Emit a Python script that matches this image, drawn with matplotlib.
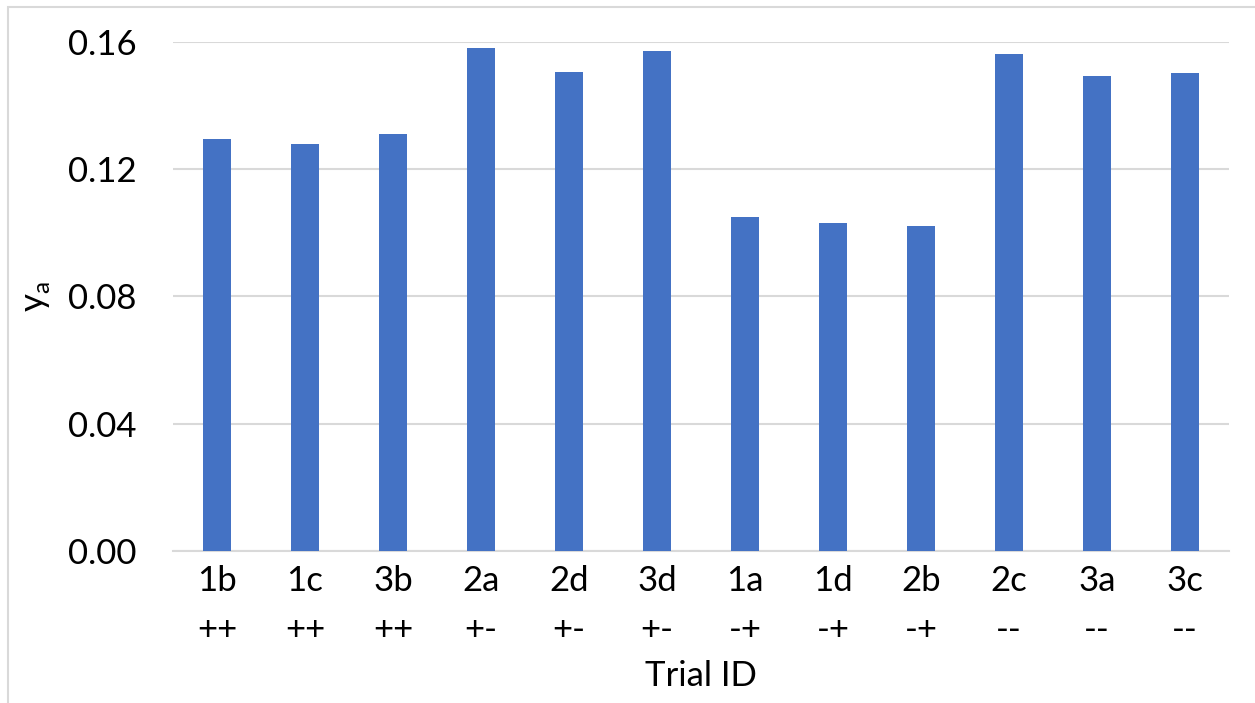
import matplotlib.pyplot as plt
from matplotlib.patches import Rectangle
import numpy as np

plt.rcParams["font.family"] = ["Lato", "DejaVu Sans"]

trial_ids = ["1b", "1c", "3b", "2a", "2d", "3d", "1a", "1d", "2b", "2c", "3a", "3c"]
signs = ["++", "++", "++", "+-", "+-", "+-", "-+", "-+", "-+", "--", "--", "--"]
y_a = [0.1295, 0.1280, 0.1312, 0.1580, 0.1505, 0.1573,
       0.1049, 0.1030, 0.1023, 0.1562, 0.1494, 0.1503]
y_ticks = [0.00, 0.04, 0.08, 0.12, 0.16]

BAR_COLOR = "#4472C4"
GRID_COLOR = "#d9d9d9"
FONT_SIZE = 25

fig = plt.figure(figsize=(12.55, 7.03), dpi=100)
ax = fig.add_axes([0.1378, 0.2162, 0.8415, 0.7241])

x = np.arange(len(trial_ids))
ax.bar(x, y_a, width=0.31, color=BAR_COLOR, zorder=3)

ax.set_xlim(-0.5, len(trial_ids) - 0.5)
ax.set_ylim(0, 0.16)
ax.set_yticks(y_ticks)
ax.set_yticklabels([f"{v:.2f}" for v in y_ticks], fontsize=FONT_SIZE)
ax.set_xticks(x)
ax.set_xticklabels([f"{t}\n{s}" for t, s in zip(trial_ids, signs)],
                   fontsize=FONT_SIZE, linespacing=1.65)

ax.tick_params(axis="both", length=0)
ax.tick_params(axis="y", pad=26)
ax.tick_params(axis="x", pad=10)

ax.grid(axis="y", color=GRID_COLOR, linewidth=1.5, zorder=0)
for side in ["top", "right", "left"]:
    ax.spines[side].set_visible(False)
ax.spines["bottom"].set_color(GRID_COLOR)
ax.spines["bottom"].set_linewidth(1.5)

ax.set_xlabel("Trial ID", fontsize=FONT_SIZE, labelpad=10)
ax.set_ylabel("y$_\\mathregular{a}$", fontsize=FONT_SIZE, labelpad=12)

# light frame around the chart area (runs off the right and bottom edges)
fig.patches.append(Rectangle((8 / 1255, -10 / 703), 1260 / 1255, 706 / 703,
                             transform=fig.transFigure, fill=False,
                             edgecolor=GRID_COLOR, linewidth=1.5))

fig.savefig("out.png", dpi=100)
plt.close(fig)
